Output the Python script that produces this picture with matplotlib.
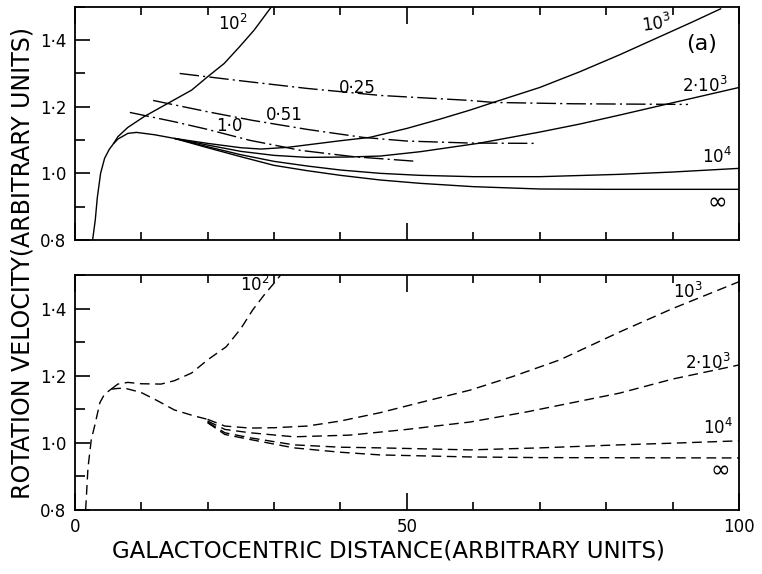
import numpy as np
import matplotlib
matplotlib.use("Agg")
import matplotlib.pyplot as plt
from matplotlib.ticker import FixedLocator, FixedFormatter, MultipleLocator

plt.rcParams["font.family"] = ["DejaVu Sans"]
plt.rcParams["mathtext.fontset"] = "dejavusans"

# ---- data (x: galactocentric distance, y: velocity) ----
Y_TICKS = [0.8, 1.0, 1.2, 1.4]
Y_TICK_LABELS = ["0·8", "1·0", "1·2", "1·4"]
X_TICKS = [0, 50, 100]
X_TICK_LABELS = ["0", "50", "100"]

# upper panel, solid curves
top_rise_x = [2.7, 3.1, 3.4, 3.9, 4.5, 5.2, 5.8]
top_rise_y = [0.80, 0.86, 0.926, 1.0, 1.045, 1.072, 1.088]

top_1e2_x = [5.8, 6.5, 8.0, 10.5, 14.0, 17.6, 20.0, 22.5, 24.8, 27.0, 29.6]
top_1e2_y = [1.088, 1.11, 1.138, 1.171, 1.21, 1.25, 1.29, 1.33, 1.38, 1.43, 1.50]

top_bundle_x = [5.8, 6.5, 8.0, 9.3, 12.0, 15.0]
top_bundle_y = [1.088, 1.103, 1.12, 1.123, 1.116, 1.105]

top_1e3_x = [15, 20, 25, 28, 32, 36, 40, 44.4, 50, 55, 59.5, 63, 70, 76, 82, 88, 93, 97.3]
top_1e3_y = [1.105, 1.09, 1.077, 1.073, 1.078, 1.088, 1.098, 1.108, 1.135, 1.163,
             1.19, 1.213, 1.258, 1.305, 1.356, 1.41, 1.455, 1.495]

top_2e3_x = [15, 20, 25, 30, 35, 41, 46, 52, 60.7, 70, 76, 82, 90, 95, 100]
top_2e3_y = [1.105, 1.085, 1.066, 1.054, 1.048, 1.049, 1.052, 1.065, 1.09, 1.124,
             1.148, 1.175, 1.212, 1.235, 1.258]

top_1e4_x = [15, 20, 25, 30, 35, 40, 46, 52, 60, 70, 82, 90, 100]
top_1e4_y = [1.105, 1.08, 1.056, 1.036, 1.022, 1.01, 1.0, 0.994, 0.99, 0.99, 0.997, 1.004, 1.015]

top_inf_x = [15, 20, 25, 30, 35, 40, 46, 52, 60, 70, 80, 100]
top_inf_y = [1.105, 1.077, 1.05, 1.024, 1.008, 0.994, 0.98, 0.97, 0.96, 0.953, 0.952, 0.952]

# upper panel, dash-dot curves
dd_025_x = [15.8, 25, 35, 46, 59.5, 63, 75, 92.3]
dd_025_y = [1.30, 1.278, 1.255, 1.234, 1.219, 1.213, 1.209, 1.207]

dd_051_x = [11.8, 20, 26.8, 35, 43.4, 50, 59.5, 69.7]
dd_051_y = [1.219, 1.185, 1.159, 1.132, 1.108, 1.097, 1.091, 1.09]

dd_10_x = [8.3, 15, 20, 26.4, 30, 34, 42, 51.5]
dd_10_y = [1.183, 1.155, 1.132, 1.099, 1.085, 1.069, 1.05, 1.036]

# lower panel, dashed curves
bot_rise_x = [1.65, 2.0, 2.5, 3.0, 3.8, 4.5, 5.5]
bot_rise_y = [0.80, 0.925, 1.01, 1.05, 1.12, 1.145, 1.16]

bot_1e2_x = [5.5, 6.5, 8, 10, 13, 15, 17.6, 20, 22.8, 25, 26.8, 28.5, 30.4, 31]
bot_1e2_y = [1.16, 1.175, 1.18, 1.176, 1.175, 1.185, 1.208, 1.247, 1.286, 1.34,
             1.396, 1.44, 1.485, 1.50]

bot_bundle_x = [5.5, 6.5, 7.5, 10, 12.5, 15, 18, 20]
bot_bundle_y = [1.16, 1.162, 1.163, 1.15, 1.125, 1.098, 1.08, 1.07]

bot_1e3_x = [20, 22.6, 26.4, 30, 35, 40, 46, 52, 59.5, 66, 73, 82, 90, 100]
bot_1e3_y = [1.07, 1.05, 1.044, 1.045, 1.05, 1.065, 1.09, 1.12, 1.157, 1.198,
             1.247, 1.33, 1.40, 1.48]

bot_2e3_x = [20, 22.6, 26.4, 33, 41.4, 50, 59.5, 68, 75, 82, 90, 100]
bot_2e3_y = [1.065, 1.04, 1.03, 1.018, 1.023, 1.04, 1.062, 1.092, 1.12, 1.148, 1.19, 1.232]

bot_1e4_x = [20, 22.6, 26.4, 33, 40, 46, 59.5, 70, 82, 90, 100]
bot_1e4_y = [1.062, 1.03, 1.015, 0.994, 0.987, 0.985, 0.979, 0.985, 0.994, 0.999, 1.006]

bot_inf_x = [20, 22.6, 26.4, 33, 40, 46, 59.5, 70, 100]
bot_inf_y = [1.06, 1.025, 1.01, 0.985, 0.972, 0.964, 0.958, 0.956, 0.955]


def style_axes(ax, show_xlabels):
    ax.set_xlim(0, 100)
    ax.set_ylim(0.8, 1.5)
    for sp in ax.spines.values():
        sp.set_linewidth(1.3)
    ax.yaxis.set_major_locator(FixedLocator(Y_TICKS))
    ax.yaxis.set_major_formatter(FixedFormatter(Y_TICK_LABELS))
    ax.yaxis.set_minor_locator(MultipleLocator(0.1))
    ax.xaxis.set_major_locator(FixedLocator(X_TICKS))
    ax.xaxis.set_minor_locator(MultipleLocator(10))
    if show_xlabels:
        ax.xaxis.set_major_formatter(FixedFormatter(X_TICK_LABELS))
    else:
        ax.xaxis.set_major_formatter(FixedFormatter([""] * len(X_TICKS)))
    ax.tick_params(axis="y", which="major", direction="in", length=11, width=1.2,
                   labelsize=12, pad=6, right=False)
    ax.tick_params(axis="y", which="minor", direction="in", length=7, width=1.2,
                   right=False)
    ax.tick_params(axis="x", which="major", direction="in", length=12, width=1.2,
                   labelsize=12, pad=6, top=True)
    ax.tick_params(axis="x", which="minor", direction="in", length=6, width=1.2,
                   top=True)


fig = plt.figure(figsize=(7.62, 5.74), dpi=100)
ax1 = fig.add_axes([0.098, 0.582, 0.872, 0.406])
ax2 = fig.add_axes([0.098, 0.1115, 0.872, 0.4095])

lw = 1.0
k = "black"

# upper panel
for xs, ys in [(top_rise_x, top_rise_y), (top_1e2_x, top_1e2_y), (top_bundle_x, top_bundle_y),
               (top_1e3_x, top_1e3_y), (top_2e3_x, top_2e3_y), (top_1e4_x, top_1e4_y),
               (top_inf_x, top_inf_y)]:
    ax1.plot(xs, ys, color=k, lw=lw, solid_capstyle="butt", solid_joinstyle="round")

for xs, ys in [(dd_025_x, dd_025_y), (dd_051_x, dd_051_y), (dd_10_x, dd_10_y)]:
    ax1.plot(xs, ys, color=k, lw=lw, dashes=(14, 3, 1.5, 3))

t = dict(fontsize=12, ha="center", va="center")
ax1.text(23.8, 1.45, r"$10^2$", **t)
ax1.text(87.6, 1.45, r"$10^3$", rotation=8, **t)
ax1.text(94.4, 1.39, "(a)", fontsize=16, ha="center", va="center")
ax1.text(94.9, 1.264, r"$2{\cdot}10^3$", **t)
ax1.text(96.7, 1.05, r"$10^4$", **t)
ax1.text(96.7, 0.914, "∞", fontsize=17, ha="center", va="center")
ax1.text(42.6, 1.255, "0·25", **t)
ax1.text(31.6, 1.174, "0·51", **t)
ax1.text(23.3, 1.141, "1·0", **t)

# lower panel
for xs, ys in [(bot_rise_x, bot_rise_y), (bot_1e2_x, bot_1e2_y), (bot_bundle_x, bot_bundle_y),
               (bot_1e3_x, bot_1e3_y), (bot_2e3_x, bot_2e3_y), (bot_1e4_x, bot_1e4_y),
               (bot_inf_x, bot_inf_y)]:
    ax2.plot(xs, ys, color=k, lw=lw, dashes=(7, 4))

ax2.text(27.1, 1.47, r"$10^2$", **t)
ax2.text(92.3, 1.449, r"$10^3$", **t)
ax2.text(95.3, 1.238, r"$2{\cdot}10^3$", **t)
ax2.text(96.8, 1.044, r"$10^4$", **t)
ax2.text(97.1, 0.919, "∞", fontsize=17, ha="center", va="center")

style_axes(ax1, False)
style_axes(ax2, True)

fig.text(0.029, 0.541, "ROTATION VELOCITY(ARBITRARY UNITS)", rotation=90,
         ha="center", va="center", fontsize=17)
fig.text(0.51, 0.04, "GALACTOCENTRIC DISTANCE(ARBITRARY UNITS)",
         ha="center", va="center", fontsize=16.5)

fig.savefig("out.png", dpi=100)
